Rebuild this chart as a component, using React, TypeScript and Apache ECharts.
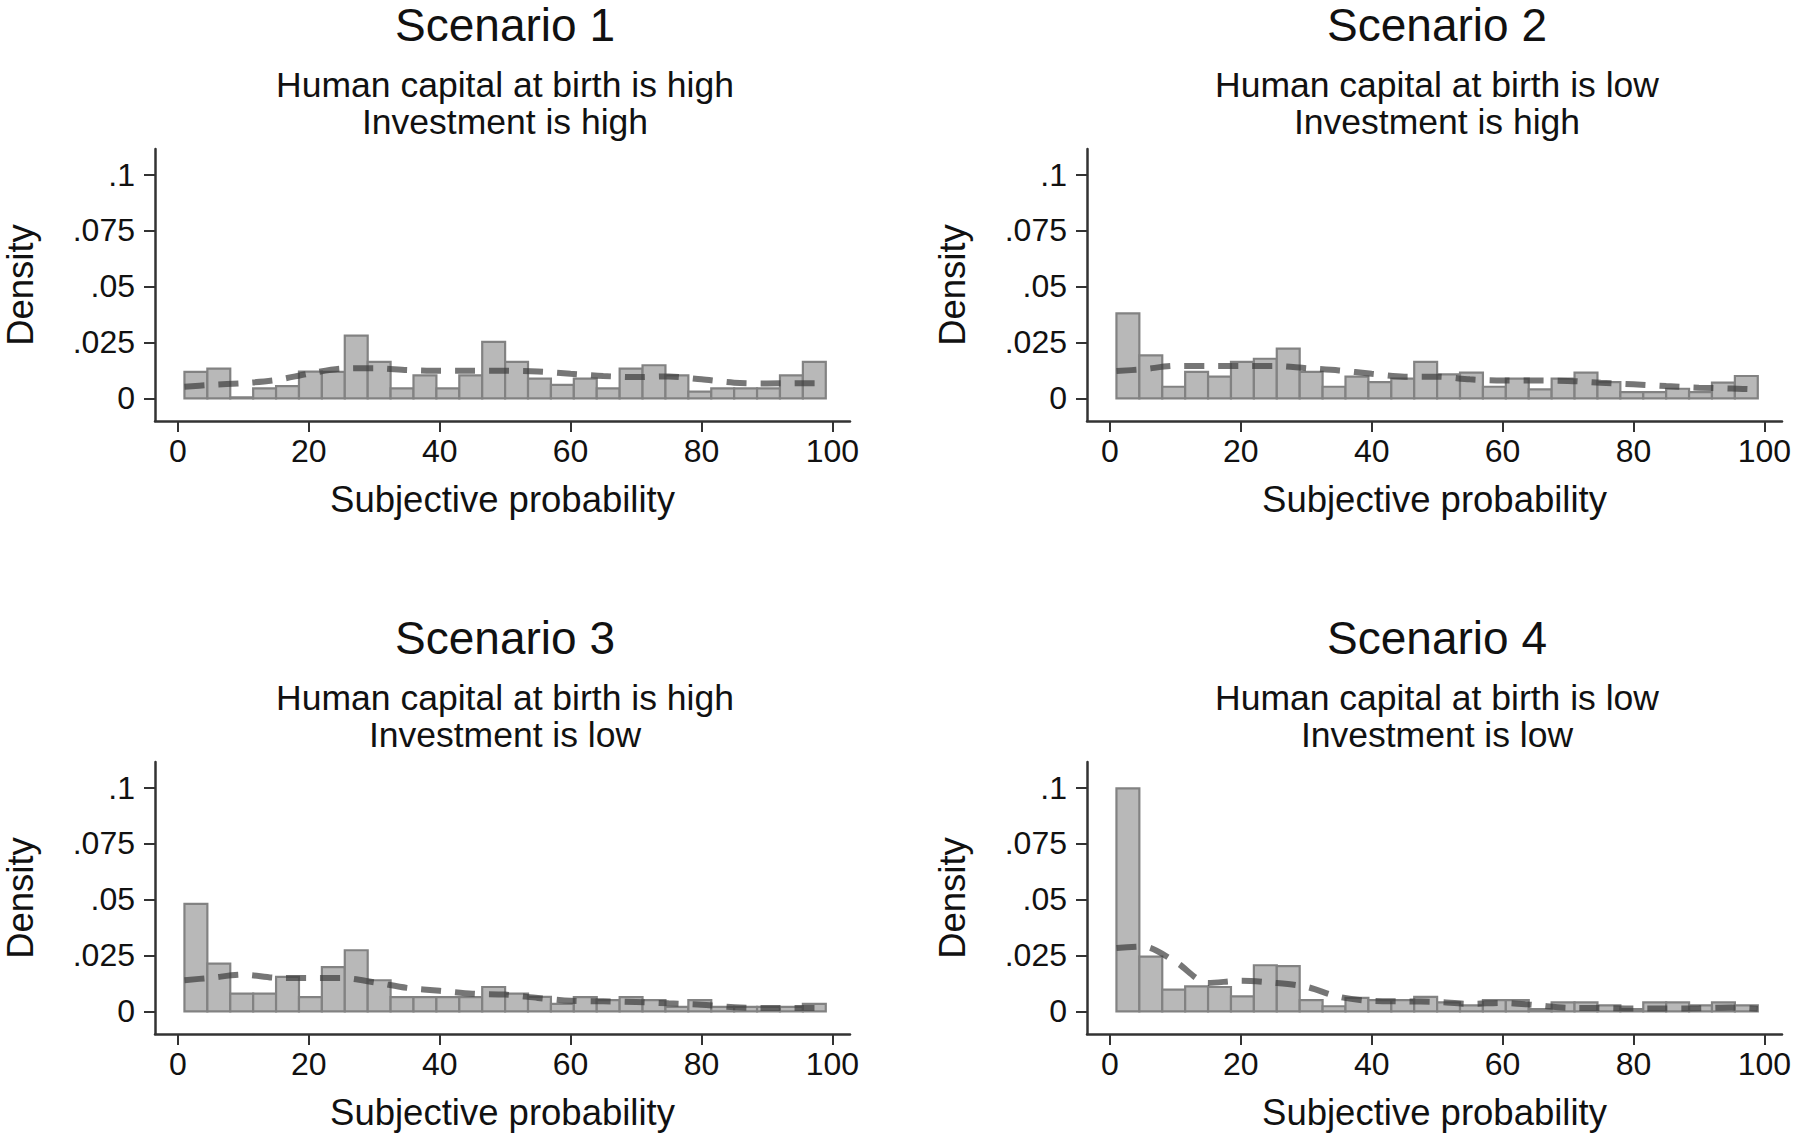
import React, { useEffect, useRef } from "react";
import * as echarts from "echarts";

const scenarioTitles = ["Scenario 1", "Scenario 2", "Scenario 3", "Scenario 4"];
const capitalLines = [
  "Human capital at birth is high",
  "Human capital at birth is low",
  "Human capital at birth is high",
  "Human capital at birth is low",
];
const investmentLines = [
  "Investment is high",
  "Investment is high",
  "Investment is low",
  "Investment is low",
];
const xAxisTitle = "Subjective probability";
const yAxisTitle = "Density";

// histogram bins: start at 1, width 3.5, 28 bins
const binStart = 1;
const binWidth = 3.5;
const hist1 = [0.0118, 0.0133, 0.0005, 0.0045, 0.0055, 0.012, 0.0118, 0.028, 0.0163, 0.0045, 0.0103, 0.0045, 0.0103, 0.0252, 0.0163, 0.0088, 0.006, 0.0088, 0.0045, 0.0133, 0.0148, 0.0103, 0.003, 0.0045, 0.0045, 0.0045, 0.0103, 0.0163];
const hist2 = [0.038, 0.0192, 0.0052, 0.0118, 0.0097, 0.0163, 0.0177, 0.0222, 0.0118, 0.0052, 0.0097, 0.0073, 0.0088, 0.0163, 0.0107, 0.0115, 0.0052, 0.0088, 0.004, 0.0088, 0.0115, 0.0073, 0.0028, 0.0028, 0.0043, 0.0028, 0.007, 0.01];
const hist3 = [0.048, 0.0213, 0.0079, 0.0079, 0.0154, 0.0064, 0.0198, 0.0273, 0.0139, 0.0064, 0.0064, 0.0064, 0.0064, 0.0109, 0.0079, 0.0065, 0.0034, 0.0064, 0.005, 0.0064, 0.005, 0.002, 0.005, 0.002, 0.002, 0.002, 0.002, 0.0034];
const hist4 = [0.0996, 0.0245, 0.0097, 0.0112, 0.0109, 0.0067, 0.0206, 0.0202, 0.0050, 0.0023, 0.006, 0.005, 0.005, 0.0065, 0.004, 0.0027, 0.005, 0.005, 0.001, 0.004, 0.004, 0.0027, 0.001, 0.004, 0.004, 0.0027, 0.004, 0.0027];

// kernel density estimates
const kdeX = [1, 5, 10, 15, 20, 25, 30, 35, 40, 45, 50, 55, 60, 65, 70, 75, 80, 85, 90, 95, 99];
const kde1 = [0.0052, 0.006, 0.0068, 0.0082, 0.011, 0.0133, 0.0135, 0.0127, 0.0123, 0.0123, 0.0123, 0.012, 0.011, 0.01, 0.0095, 0.0098, 0.0085, 0.007, 0.0067, 0.0068, 0.0068];
const kde2 = [0.0122, 0.013, 0.0145, 0.0145, 0.0145, 0.0145, 0.0135, 0.0125, 0.011, 0.0097, 0.0097, 0.0085, 0.008, 0.008, 0.0078, 0.007, 0.0063, 0.0055, 0.0048, 0.0044, 0.004];
const kde3 = [0.0139, 0.015, 0.0164, 0.015, 0.0149, 0.0149, 0.013, 0.0105, 0.0092, 0.0079, 0.0075, 0.006, 0.0047, 0.0045, 0.0042, 0.0036, 0.003, 0.0018, 0.0015, 0.0015, 0.0015];
const kde4 = [0.0283, 0.029, 0.0222, 0.0127, 0.0137, 0.0128, 0.011, 0.0065, 0.0047, 0.0045, 0.0042, 0.0034, 0.0038, 0.0028, 0.0016, 0.0015, 0.0013, 0.0013, 0.0014, 0.0017, 0.0012];

const xTicks = [0, 20, 40, 60, 80, 100];
const yTicks = [0, 0.025, 0.05, 0.075, 0.1];
const yTickLabels = ["0", ".025", ".05", ".075", ".1"];

const hists = [hist1, hist2, hist3, hist4];
const kdes = [kde1, kde2, kde3, kde4];

const FONT = "'Liberation Sans', Arial, Helvetica, sans-serif";

export default function App() {
  const ref = useRef<HTMLDivElement>(null);
  useEffect(() => {
    if (!ref.current) return;
    const chart = echarts.init(ref.current, undefined, { renderer: "svg" });

    const panelX = [0, 932, 0, 932];
    const panelY = [0, 0, 613, 613];

    const grids: any[] = [];
    const xAxes: any[] = [];
    const yAxes: any[] = [];
    const series: any[] = [];
    const graphics: any[] = [];

    for (let p = 0; p < 4; p++) {
      const ox = panelX[p];
      const oy = panelY[p];
      grids.push({ left: 155 + ox, top: 149 + oy, width: 695, height: 272 });
      xAxes.push({
        type: "value",
        gridIndex: p,
        min: -3.5,
        max: 102.7,
        name: xAxisTitle,
        nameLocation: "middle",
        nameGap: 60,
        nameTextStyle: { fontSize: 36.5, color: "#111", fontFamily: FONT },
        axisLine: { show: true, onZero: false, lineStyle: { color: "#333", width: 2.5 } },
        axisTick: { show: true, customValues: xTicks, length: 11, lineStyle: { color: "#333", width: 2 } },
        axisLabel: { customValues: xTicks, margin: 14, fontSize: 32, color: "#111", fontFamily: FONT },
        splitLine: { show: false },
      });
      yAxes.push({
        type: "value",
        gridIndex: p,
        min: -0.0101,
        max: 0.1114,
        name: yAxisTitle,
        nameLocation: "middle",
        nameGap: 116,
        nameRotate: 90,
        nameTextStyle: { fontSize: 36.5, color: "#111", fontFamily: FONT },
        axisLine: { show: true, onZero: false, lineStyle: { color: "#333", width: 2.5 } },
        axisTick: { show: true, customValues: yTicks, length: 11, lineStyle: { color: "#333", width: 2 } },
        axisLabel: {
          customValues: yTicks,
          margin: 20,
          fontSize: 32,
          color: "#111",
          fontFamily: FONT,
          formatter: (v: number) => {
            const i = yTicks.findIndex((t) => Math.abs(t - v) < 1e-9);
            return i >= 0 ? yTickLabels[i] : "";
          },
        },
        splitLine: { show: false },
      });

      const histData = hists[p].map((h, i) => [binStart + i * binWidth, binStart + (i + 1) * binWidth, h]);
      series.push({
        type: "custom",
        xAxisIndex: p,
        yAxisIndex: p,
        data: histData,
        encode: { x: [0, 1], y: 2 },
        z: 2,
        renderItem: (params: any, api: any) => {
          const s = api.coord([api.value(0), 0]);
          const e = api.coord([api.value(1), api.value(2)]);
          return {
            type: "rect",
            shape: { x: s[0], y: e[1], width: e[0] - s[0], height: s[1] - e[1] },
            style: { fill: "#b8b8b8", stroke: "#828282", lineWidth: 2.2 },
          };
        },
      });
      series.push({
        type: "line",
        xAxisIndex: p,
        yAxisIndex: p,
        data: kdeX.map((x, i) => [x, kdes[p][i]]),
        symbol: "none",
        smooth: 0.3,
        z: 3,
        lineStyle: { type: [20, 14], width: 6, color: "rgba(60,60,60,0.7)" },
      });

      const cx = 505 + ox;
      const common = { fontFamily: FONT, fill: "#111", align: "center", verticalAlign: "middle", textAlign: "center", textVerticalAlign: "middle" };
      graphics.push({ type: "text", x: cx, y: 25 + oy, style: { ...common, text: scenarioTitles[p], fontSize: 46 } });
      graphics.push({ type: "text", x: cx, y: 85 + oy, style: { ...common, text: capitalLines[p], fontSize: 35.5 } });
      graphics.push({ type: "text", x: cx, y: 122 + oy, style: { ...common, text: investmentLines[p], fontSize: 35.5 } });
    }

    chart.setOption({
      animation: false,
      backgroundColor: "#ffffff",
      grid: grids,
      xAxis: xAxes,
      yAxis: yAxes,
      series,
      graphic: graphics,
    });
    return () => chart.dispose();
  }, []);

  return (
    <div
      ref={ref}
      style={{ position: "fixed", left: 0, top: 0, width: 1800, height: 1138, background: "#fff" }}
    />
  );
}
